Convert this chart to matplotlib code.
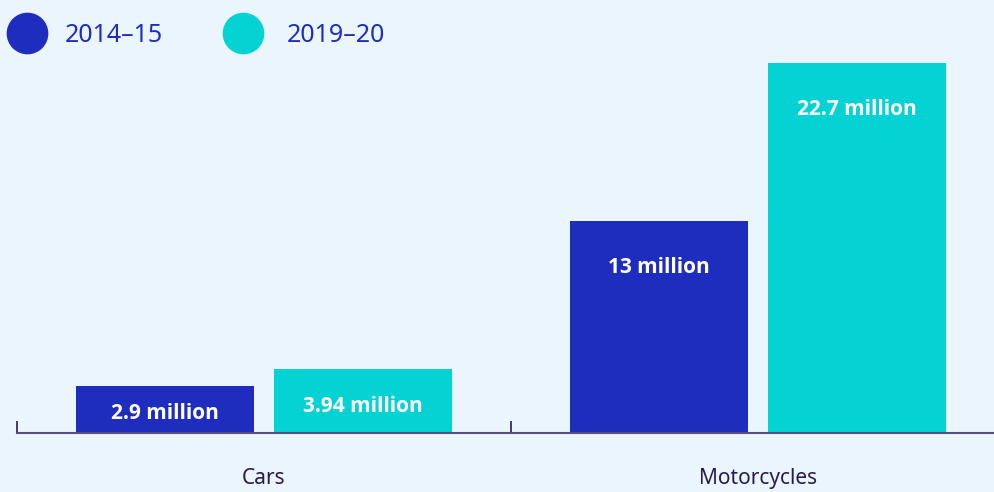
import numpy as np
import matplotlib
matplotlib.use('Agg')
import matplotlib.pyplot as plt
from matplotlib.lines import Line2D

plt.rcParams['font.family'] = ['Noto Sans', 'DejaVu Sans']

categories = ['Cars', 'Motorcycles']
periods = ['2014\u201315', '2019\u201320']
values_2014 = [2.9, 13.0]
values_2019 = [3.94, 22.7]
labels_2014 = ['2.9 million', '13 million']
labels_2019 = ['3.94 million', '22.7 million']

colors = ['#1f2dbf', '#05d3d3']
bg = '#ebf5fe'
axis_color = '#5a4a86'
text_color = '#2a1a4f'

fig = plt.figure(figsize=(9.95, 4.92), dpi=100, facecolor=bg)
W, H = 995, 492
# axes spans past the right edge so the baseline runs off the figure
ax = fig.add_axes([17 / W, (H - 433) / H, 988 / W, 407.5 / H])
ax.set_facecolor(bg)

x = np.arange(len(categories))
width = 0.36
offset = 0.2

bars_a = ax.bar(x - offset, values_2014, width, color=colors[0], zorder=2)
bars_b = ax.bar(x + offset, values_2019, width, color=colors[1], zorder=2)

ax.set_xlim(-0.5, 1.5)
ax.set_ylim(0, 25)

# value labels sit near the top of tall bars, lower in short ones
def put_labels(bars, vals, texts):
    for b, v, t in zip(bars, vals, texts):
        y = v - min(2.85, 0.58 * v)
        ax.text(b.get_x() + b.get_width() / 2, y, t, ha='center', va='center',
                color='white', fontsize=15, fontweight='bold',
                family=['Open Sans', 'DejaVu Sans'], zorder=3)

put_labels(bars_a, values_2014, labels_2014)
put_labels(bars_b, values_2019, labels_2019)

for s in ['top', 'right', 'left']:
    ax.spines[s].set_visible(False)
ax.spines['bottom'].set_color(axis_color)
ax.spines['bottom'].set_linewidth(1.5)
ax.set_yticks([])

ax.set_xticks([-0.5, 0.5, 1.5])
ax.set_xticklabels([])
ax.tick_params(axis='x', direction='in', length=9, width=1.2, color=text_color)
ax.set_xticks(x, minor=True)
ax.set_xticklabels(categories, minor=True)
ax.tick_params(axis='x', which='minor', length=0, pad=33, labelsize=15,
               labelcolor=text_color)
for lbl in ax.get_xticklabels(minor=True):
    lbl.set_verticalalignment('center')

# legend: circles with labels, placed in pixel positions
legend_items = [(27, 65), (243.5, 287)]
for (cx, tx), c, name in zip(legend_items, colors, periods):
    fig.add_artist(Line2D([cx / W], [1 - 33 / H], marker='o', linestyle='',
                          markersize=29, markerfacecolor=c, markeredgecolor=c,
                          transform=fig.transFigure))
    fig.text(tx / W, 1 - 35 / H, name, ha='left', va='center',
             fontsize=18, color=colors[0])

fig.savefig('out.png', dpi=100, facecolor=bg)
